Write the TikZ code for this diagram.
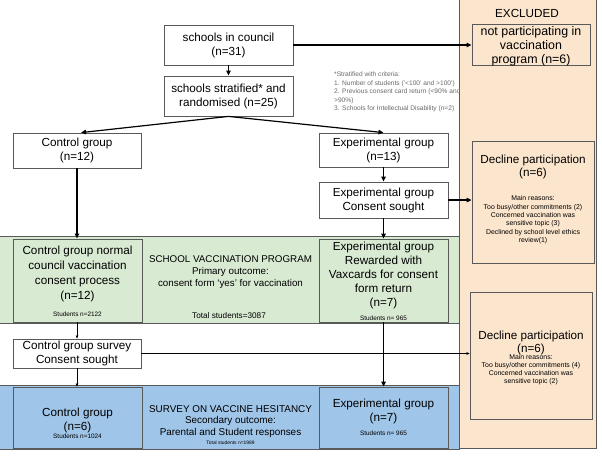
\documentclass[tikz,border=0pt]{standalone}
\usepackage{fontspec}
\setmainfont{Liberation Sans}
\usetikzlibrary{arrows.meta}
\definecolor{gband}{HTML}{D9EAD3}
\definecolor{pband}{HTML}{FCE5CD}
\definecolor{bband}{HTML}{9FC5E8}
\definecolor{edgec}{HTML}{595959}
\definecolor{footc}{HTML}{6A6A6A}
\newcommand\mainsz{\fontsize{11.7}{14}\selectfont}
\begin{document}
\begin{tikzpicture}[x=1pt,y=-1pt,
  box/.style={draw=edgec, line width=0.8pt, inner sep=0pt, align=center, font=\mainsz},
  band/.style={draw=edgec, line width=0.7pt, inner sep=0pt},
  txt/.style={inner sep=0pt, align=center},
  arr/.style={line width=1.2pt, -{Triangle[length=5pt,width=4.5pt]}},
  thinarr/.style={line width=0.7pt, -{Triangle[length=3pt,width=2.6pt]}}]
\useasboundingbox (0,0) rectangle (602,456);
\fill[white] (0,0) rectangle (602,456);
% bands
\node[band, fill=pband, minimum width=137pt, minimum height=450pt] (excl) at (527.5,223) {};
\node[band, fill=gband, minimum width=461pt, minimum height=87pt] (gb) at (229,279.5) {};
\node[band, fill=bband, minimum width=461pt, minimum height=64pt] (bb) at (229,417) {};
% top boxes
\node[box, minimum width=129pt, minimum height=40pt] (council) at (228.5,45) {schools in council\\(n=31)};
\node[box, minimum width=129pt, minimum height=40pt] (strat) at (228.5,96) {schools stratified* and\\randomised (n=25)};
\node[box, minimum width=128pt, minimum height=35pt] (ctrl) at (77,150.5) {Control group\\(n=12)};
\node[box, minimum width=129pt, minimum height=34pt] (exp) at (383.5,150) {Experimental group\\(n=13)};
\node[box, minimum width=129pt, minimum height=36pt] (expc) at (383.5,200) {Experimental group\\Consent sought};
% excluded column
\node[txt, font=\mainsz] (excllab) at (527,13) {EXCLUDED};
\node[box, fill=pband, minimum width=118pt, minimum height=41pt] (notp) at (531,44.5) {};
\node[txt, font=\fontsize{12.4}{14}\selectfont] (notpt) at (531,46) {not participating in\\vaccination\\program (n=6)};
\node[box, fill=pband, minimum width=122pt, minimum height=122pt] (dec1) at (533,202) {};
\node[txt, font=\fontsize{11.7}{12.5}\selectfont] (dec1t) at (533,167) {Decline participation\\(n=6)};
\node[txt, font=\fontsize{6.9}{8.4}\selectfont] (dec1r) at (533,220) {Main reasons:\\Too busy/other commitments (2)\\Concerned vaccination was\\sensitive topic (3)\\Declined by school level ethics\\review(1)};
\node[box, fill=pband, minimum width=122pt, minimum height=127pt] (dec2) at (531,355.5) {};
\node[txt, font=\fontsize{11.7}{12.5}\selectfont] (dec2t) at (531,343) {Decline participation\\(n=6)};
\node[txt, font=\fontsize{6.9}{8}\selectfont] (dec2r) at (531,370) {Main reasons:\\Too busy/other commitments (4)\\Concerned vaccination was\\sensitive topic (2)};
% footnote
\node[txt, align=left, anchor=north west, text=footc, font=\fontsize{6.6}{8.5}\selectfont] (fn) at (334,72) {*Stratified with criteria:\\1. Number of students ('<100' and >100')\\2. Previous consent card return (<90\% and\\>90\%)\\3. Schools for Intellectual Disability (n=2)};
% green band
\node[box, fill=gband, minimum width=129pt, minimum height=83pt] (ctrln) at (77.5,280.5) {};
\node[txt, font=\fontsize{11.7}{14.7}\selectfont] (ctrlnt) at (77.5,274) {Control group normal\\council vaccination\\consent process\\(n=12)};
\node[txt, font=\fontsize{6.4}{8}\selectfont] (ctrlns) at (77.5,314) {Students n=2122};
\node[txt, font=\fontsize{9.8}{12}\selectfont] (svp) at (230.5,272) {SCHOOL VACCINATION PROGRAM\\Primary outcome:\\consent form ‘yes’ for vaccination};
\node[txt, font=\fontsize{8.2}{10}\selectfont] (svpt) at (229,316) {Total students=3087};
\node[box, fill=gband, minimum width=129pt, minimum height=83pt] (rew) at (383.5,280.5) {};
\node[txt, font=\fontsize{11.7}{14}\selectfont] (rewt) at (383.5,275) {Experimental group\\Rewarded with\\Vaxcards for consent\\form return\\(n=7)};
\node[txt, font=\fontsize{6.4}{8}\selectfont] (rews) at (383.5,318) {Students n= 965};
% survey box
\node[box, fill=white, minimum width=128pt, minimum height=29pt] (surv) at (77,353.5) {Control group survey\\Consent sought};
% blue band
\node[box, fill=bband, minimum width=129pt, minimum height=61pt] (ctrlb) at (77.5,417.5) {};
\node[txt, font=\fontsize{11.7}{14}\selectfont] (ctrlbt) at (77.5,420) {Control group\\(n=6)};
\node[txt, font=\fontsize{6.4}{8}\selectfont] (ctrlbs) at (77.5,436) {Students n=1024};
\node[txt, font=\fontsize{9.9}{11.5}\selectfont] (svh) at (230.5,421.5) {SURVEY ON VACCINE HESITANCY\\Secondary outcome:\\Parental and Student responses};
\node[txt, font=\fontsize{4.9}{6}\selectfont] (svht) at (230.5,443) {Total students n=1989};
\node[box, fill=bband, minimum width=129pt, minimum height=61pt] (expb) at (383.5,417.5) {};
\node[txt, font=\fontsize{11.7}{14}\selectfont] (expbt) at (383.5,411) {Experimental group\\(n=7)};
\node[txt, font=\fontsize{6.4}{8}\selectfont] (expbs) at (383.5,433) {Students n= 965};
% connectors
\draw[arr] (council.east) -- (council.east -| notp.west);
\draw[arr] (council) -- (strat);
\draw[arr] (strat.south) -- ([xshift=4pt]ctrl.north);
\draw[arr] (strat.south) -- (exp.north);
\draw[arr] (ctrl.south) -- (ctrl.south |- ctrln.north);
\draw[arr] (exp) -- (expc);
\draw[arr] (expc.east) -- (expc.east -| dec1.west);
\draw[arr] (expc) -- (rew);
\draw[thinarr] (ctrln.south -| surv.south) -- (surv.north);
\draw[thinarr] (surv.east) -- (surv.east -| dec2.west);
\draw[thinarr] (surv.south) -- (surv.south |- ctrlb.north);
\draw[arr] (rew) -- (expb);
\end{tikzpicture}
\end{document}
